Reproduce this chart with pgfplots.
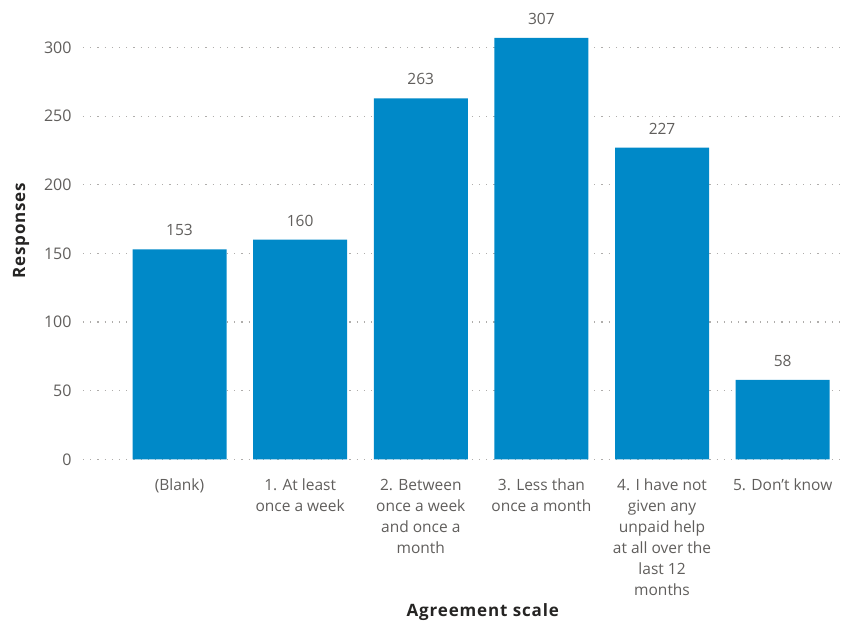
\documentclass[border=0pt]{standalone}
\usepackage{fontspec}
\setmainfont{Open Sans}
\newfontfamily\titlefont[LetterSpace=5]{Open Sans}
\usepackage{pgfplots}
\pgfplotsset{compat=1.18}
\definecolor{barblue}{RGB}{0,137,200}
\definecolor{txtgray}{RGB}{96,94,92}
\definecolor{titlegray}{RGB}{37,36,35}
\definecolor{gridgray}{RGB}{175,173,171}
\begin{document}
\begin{tikzpicture}
\useasboundingbox (-83pt,-163pt) rectangle (760pt,459.4pt);
\begin{axis}[
  at={(0pt,0pt)}, anchor=south west,
  scale only axis, width=760pt, height=439.4pt,
  xmin=-0.8, xmax=5.5, ymin=0, ymax=320,
  axis line style={draw=none},
  major tick length=0pt,
  ytick={0,50,...,300},
  ymajorgrids,
  grid style={gridgray, line width=1.2pt, dash pattern=on 1.2pt off 6pt},
  /pgf/number format/assume math mode=true,
  yticklabel style={font=\fontsize{16}{19}\selectfont, text=txtgray, xshift=-8pt},
  xtick={0,1,2,3,4,5},
  xticklabels={{(Blank)},{1. At least\\once a week},{2. Between\\once a week\\and once a\\month},{3. Less than\\once a month},{4. I have not\\given any\\unpaid help\\at all over the\\last 12\\months},{5. Don't know}},
  xticklabel style={align=center, font=\fontsize{15.5}{21}\selectfont, text=txtgray, anchor=north, yshift=-16pt},
  ybar, bar width=94pt,
  nodes near coords,
  nodes near coords style={font=\fontsize{15.5}{18}\selectfont, text=txtgray, yshift=10pt},
  clip=false,
]
\addplot[fill=barblue, draw=none] coordinates {(0,153) (1,160) (2,263) (3,307) (4,227) (5,58)};
\node[font=\titlefont\bfseries\fontsize{17}{20}\selectfont, text=titlegray] at ([yshift=-153pt]rel axis cs:0.526,0) {Agreement scale};
\node[font=\titlefont\bfseries\fontsize{17}{20}\selectfont, text=titlegray, rotate=90] at ([xshift=-62pt]rel axis cs:0,0.52) {Responses};
\end{axis}
\end{tikzpicture}
\end{document}
